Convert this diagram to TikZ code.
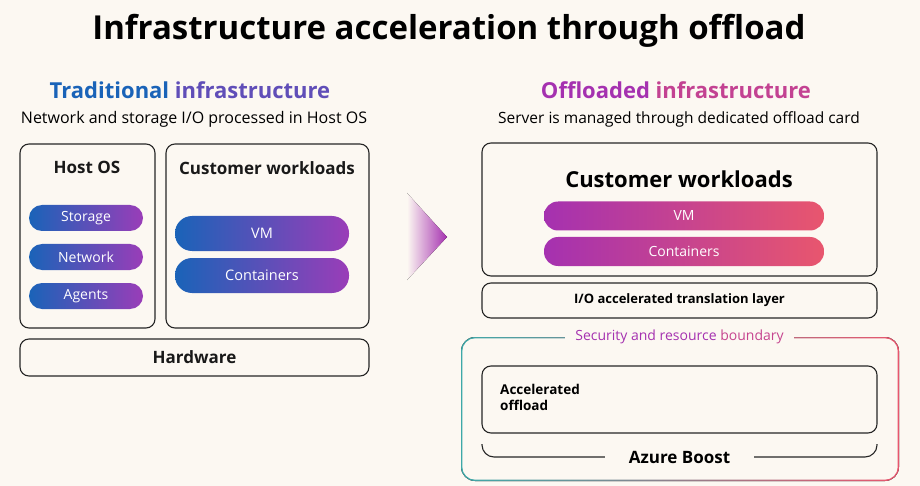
\documentclass[tikz,border=0pt]{standalone}
\usepackage{fontspec}
\setmainfont{Open Sans}
\usetikzlibrary{positioning}
\definecolor{bgcream}{HTML}{FCF8F2}
\definecolor{tradblue}{HTML}{1A63B8}
\definecolor{tradpurple}{HTML}{9A3DB8}
\definecolor{offpurple}{HTML}{A531B0}
\definecolor{offpink}{HTML}{E8566E}
\definecolor{lineteal}{HTML}{3EA8A8}
\definecolor{lineblue}{HTML}{7C6AD0}
\newcommand{\fsz}[1]{\fontsize{#1}{#1}\selectfont}
\begin{document}
\begin{tikzpicture}[x=1pt,y=-1pt,
    box/.style={draw=black!85,line width=1.1pt,rounded corners=9pt,inner sep=0pt},
    heading/.style={font=\fsz{17}\bfseries,text=black!90},
    leftpill/.style={rounded corners=13pt,minimum width=114pt,minimum height=26pt,inner sep=0pt,
        left color=tradblue,middle color=tradblue!75!tradpurple,right color=tradpurple,
        text=white,font=\fsz{14}},
    bigpill/.style={leftpill,rounded corners=17pt,minimum width=174pt,minimum height=35pt,font=\fsz{14.5}},
    rightpill/.style={rounded corners=14pt,minimum width=280pt,minimum height=29pt,inner sep=0pt,
        left color=offpurple,right color=offpink,text=white,font=\fsz{14}}]
    \fill[bgcream] (0,0) rectangle (920,486);
    \node (title) at (449,31) {\fsz{33}\bfseries Infrastructure acceleration through offload};
    % traditional side
    \node (tradhead) at (190,90) {\fsz{22}\bfseries\color{tradblue}Traditional \color{tradblue!45!tradpurple}infrastructure};
    \node (tradsub) at (194,119) {\fsz{16}Network and storage I/O processed in Host OS};
    \node[box,minimum width=135pt,minimum height=184pt] (hostbox) at (87.5,236) {};
    \node[box,minimum width=203pt,minimum height=184pt] (cwbox) at (267.5,236) {};
    \node[heading] (hostos) at (87,167) {Host OS};
    \node[heading] (cwtrad) at (267,168) {Customer workloads};
    \node[leftpill] (storage) at (86,218) {Storage};
    \node[leftpill] (network) at (86,257) {Network};
    \node[leftpill] (agents) at (86,296) {Agents};
    \node[bigpill] (vmtrad) at (262,233.5) {VM};
    \node[bigpill] (ctrad) at (262,275.5) {Containers};
    \node[box,minimum width=349pt,minimum height=37pt,heading] (hardware) at (194.5,357.5) {Hardware};
    % arrow
    \fill[left color=bgcream,middle color=offpurple!35!bgcream,right color=offpurple] (407,193) -- (447,237) -- (407,280) -- cycle;
    % offloaded side
    \node (offhead) at (676,90) {\fsz{22}\bfseries\color{offpurple}Offloaded \color{offpurple!55!offpink}infrastructure};
    \node (offsub) at (679,119) {\fsz{15.5}Server is managed through dedicated offload card};
    \node[box,minimum width=395pt,minimum height=133pt] (cwbox2) at (679.5,209.5) {};
    \node (cwoff) at (679,179) {\fsz{22}\bfseries Customer workloads};
    \node[rightpill] (vmoff) at (684,216) {VM};
    \node[rightpill] (coff) at (684,251.5) {Containers};
    \node[box,minimum width=395pt,minimum height=35pt,font=\fsz{13}\bfseries] (iolayer) at (679.5,300.5) {I/O accelerated translation layer};
    % security boundary
    \fill[rounded corners=14pt,left color=lineteal,middle color=lineblue,right color=offpink] (461,337) rectangle (899,481);
    \fill[rounded corners=13pt,bgcream] (462.3,338.3) rectangle (897.7,479.7);
    \node[fill=bgcream,minimum width=229pt,inner sep=1pt,font=\fsz{14}] (secb) at (679.5,337)
        {\color{offpurple}Security and resource \color{offpurple!50!offpink}boundary};
    \node[box,minimum width=395pt,minimum height=67pt] (accel) at (679.5,399.5) {};
    \node[anchor=north west,align=left,inner sep=0pt,font=\fsz{13.5}\bfseries] (acceltext) at (500,384) {Accelerated\\[3pt]offload};
    \node[minimum width=149pt,inner sep=0pt,font=\fsz{17}\bfseries] (boost) at (679.5,457) {Azure Boost};
    \coordinate (bl) at (482,444);
    \coordinate (br) at (877,444);
    \draw[line width=1.1pt,black!85,rounded corners=12pt] (boost.west) -| (bl);
    \draw[line width=1.1pt,black!85,rounded corners=12pt] (boost.east) -| (br);
\end{tikzpicture}
\end{document}
